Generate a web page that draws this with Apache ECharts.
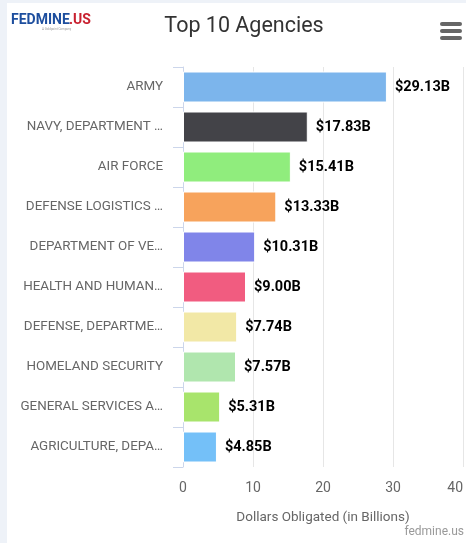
<!DOCTYPE html>
<html><head><meta charset="utf-8">
<script src="https://cdn.jsdelivr.net/npm/echarts@6/dist/echarts.min.js"></script>
<style>html,body{margin:0;padding:0;background:#fff;}#c{width:466px;height:543px;}</style>
</head><body><div id="c"></div>
<script>
const categories = ["ARMY","NAVY, DEPARTMENT …","AIR FORCE","DEFENSE LOGISTICS …","DEPARTMENT OF VE…","HEALTH AND HUMAN…","DEFENSE, DEPARTME…","HOMELAND SECURITY","GENERAL SERVICES A…","AGRICULTURE, DEPA…"];
const values = [29.13, 17.83, 15.41, 13.33, 10.31, 9.00, 7.74, 7.57, 5.31, 4.85];
const barColors = ["#7cb5ec","#434348","#90ed7d","#f7a35c","#8085e9","#f15c80","#f2e8a6","#b0e6ae","#a8e46c","#74c0f8"];
const xTicks = [0, 10, 20, 30, 40];

const chart = echarts.init(document.getElementById('c'));
const font = 'Roboto, "Open Sans", sans-serif';
chart.setOption({
  animation: false,
  backgroundColor: '#ffffff',
  textStyle: {fontFamily: font},
  title: {
    text: 'Top 10 Agencies', left: 239, top: 11, textAlign: 'center',
    textStyle: {fontSize: 21.5, fontWeight: 'normal', color: '#333333', fontFamily: font}
  },
  grid: {left: 183, right: 0, top: 67, bottom: 76, containLabel: false},
  xAxis: {
    type: 'value', min: xTicks[0], max: xTicks[xTicks.length-1], interval: 10,
    name: 'Dollars Obligated (in Billions)', nameLocation: 'middle', nameGap: 44,
    nameTextStyle: {color: '#666666', fontSize: 13.5, fontFamily: font},
    axisLine: {show: false}, axisTick: {show: false},
    axisLabel: {color: '#666666', fontSize: 14, margin: 14, alignMaxLabel: 'right', fontFamily: font},
    splitLine: {show: true, lineStyle: {color: '#e6e6e6', width: 1}}
  },
  yAxis: {
    type: 'category', data: categories, inverse: true,
    axisLine: {show: true, lineStyle: {color: '#ccd6eb'}},
    axisTick: {show: true, length: 10, lineStyle: {color: '#ccd6eb'}},
    axisLabel: {color: '#666666', fontSize: 13.4, margin: 20, fontFamily: font}
  },
  series: [{
    type: 'bar', data: values.map((v, i) => ({value: v, itemStyle: {color: barColors[i]}})),
    barWidth: 31,
    itemStyle: {borderColor: '#ffffff', borderWidth: 1},
    label: {
      show: true, position: 'right', distance: 8, color: '#000000', fontSize: 14.5, fontWeight: 'bold',
      fontFamily: font, formatter: p => '$' + p.value.toFixed(2) + 'B'
    }
  }],
  graphic: [
    {type: 'rect', left: 0, top: 0, shape: {width: 7, height: 543}, style: {fill: '#eef2f8'}, silent: true},
    {type: 'rect', left: 0, top: 0, shape: {width: 466, height: 3}, style: {fill: '#eef2f8'}, silent: true},
    {type: 'text', left: 11, top: 13, style: {text: 'FEDMINE', fill: '#1d4e9e', font: 'bold 14px ' + font}},
    {type: 'text', left: 69, top: 13, style: {text: '.US', fill: '#c8202f', font: 'bold 14px ' + font}},
    {type: 'text', left: 42, top: 28, style: {text: 'A Goldpoint Company', fill: '#999999', font: '3px ' + font}},
    {type: 'rect', left: 440, top: 22, shape: {width: 22, height: 4, r: 2}, style: {fill: '#666666'}},
    {type: 'rect', left: 440, top: 29, shape: {width: 22, height: 4, r: 2}, style: {fill: '#666666'}},
    {type: 'rect', left: 440, top: 36, shape: {width: 22, height: 4, r: 2}, style: {fill: '#666666'}},
    {type: 'text', right: 2, top: 526, style: {text: 'fedmine.us', fill: '#999999', font: '12px ' + font}}
  ]
});
</script></body></html>
